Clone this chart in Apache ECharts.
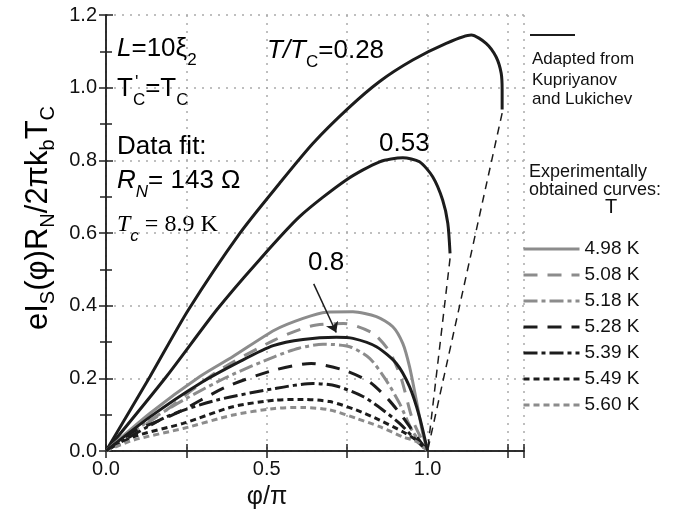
<!DOCTYPE html>
<html>
<head>
<meta charset="utf-8">
<script src="https://cdn.jsdelivr.net/npm/echarts@6/dist/echarts.min.js"></script>
</head>
<body style="margin:0">
<div id="main" style="width:678px;height:516px;"></div>
<script type="text/javascript">
// theory curves (Kupriyanov & Lukichev), T/Tc
var th028 = [[0,0],[0.137,0.205],[0.256,0.388],[0.416,0.599],[0.540,0.737],[0.644,0.847],[0.753,0.943],[0.851,1.017],[0.954,1.076],[1.058,1.122],[1.136,1.145],[1.182,1.122],[1.213,1.085],[1.229,1.04],[1.232,0.994],[1.232,0.94]];
var th053 = [[0,0],[0.188,0.205],[0.344,0.388],[0.468,0.517],[0.602,0.645],[0.747,0.746],[0.851,0.796],[0.923,0.807],[0.975,0.796],[1.016,0.755],[1.047,0.691],[1.063,0.627],[1.070,0.544]];
var th080 = [[0,0],[0.137,0.094],[0.292,0.186],[0.42,0.248],[0.52,0.29],[0.613,0.307],[0.716,0.313],[0.768,0.31],[0.841,0.287],[0.903,0.241],[0.944,0.177],[0.975,0.094],[1.0,0]];
var back028 = [[1.232,0.93],[1.0,0]];
var back053 = [[1.07,0.53],[1.0,0]];

// experimental curves
var expNames = ['4.98 K','5.08 K','5.18 K','5.28 K','5.39 K','5.49 K','5.60 K'];
var exp498 = [[0,0],[0.137,0.104],[0.292,0.205],[0.395,0.26],[0.525,0.333],[0.613,0.365],[0.685,0.382],[0.768,0.383],[0.841,0.370],[0.892,0.342],[0.923,0.296],[0.944,0.232],[0.965,0.140],[0.985,0.049],[1.0,0]];
var exp508 = [[0,0],[0.188,0.113],[0.344,0.218],[0.525,0.306],[0.638,0.344],[0.739,0.351],[0.830,0.324],[0.882,0.273],[0.918,0.200],[0.954,0.085],[1.0,0]];
var exp518 = [[0,0],[0.12,0.075],[0.24,0.140],[0.38,0.205],[0.525,0.260],[0.6,0.283],[0.675,0.294],[0.758,0.287],[0.820,0.255],[0.871,0.195],[0.913,0.131],[0.954,0.053],[1.0,0]];
var exp528 = [[0,0],[0.085,0.053],[0.219,0.104],[0.375,0.177],[0.525,0.223],[0.638,0.241],[0.742,0.222],[0.82,0.19],[0.88,0.14],[0.93,0.085],[0.97,0.035],[1.0,0]];
var exp539 = [[0,0],[0.188,0.094],[0.344,0.140],[0.525,0.172],[0.644,0.186],[0.716,0.179],[0.799,0.150],[0.861,0.113],[0.913,0.076],[0.954,0.039],[1.0,0]];
var exp549 = [[0,0],[0.085,0.039],[0.240,0.076],[0.395,0.122],[0.525,0.140],[0.613,0.142],[0.696,0.136],[0.778,0.113],[0.851,0.085],[0.923,0.053],[0.965,0.030],[1.0,0]];
var exp560 = [[0,0],[0.085,0.030],[0.240,0.062],[0.395,0.099],[0.525,0.117],[0.613,0.120],[0.696,0.113],[0.778,0.090],[0.851,0.067],[0.923,0.039],[0.965,0.026],[1.0,0]];

var arrow08 = [[0.646,0.46],[0.716,0.326]];

var F = "'Liberation Sans', Arial, sans-serif";
var GRAY = '#8c8c8c', BLACK = '#1c1c1c';

var myChart = echarts.init(document.getElementById('main'));

function lineSeries(name, data, color, width, type) {
	return {
		name: name, type: 'line', data: data, symbol: 'none', showSymbol: false, smooth: 0.25,
		lineStyle: { color: color, width: width, type: type },
		itemStyle: { color: color }, silent: true, animation: false
	};
}

var rich26 = {
	n: { fontSize: 26, lineHeight: 44, fontFamily: F, color: '#111' },
	i: { fontSize: 26, lineHeight: 44, fontFamily: F, fontStyle: 'italic', color: '#111' },
	s: { fontSize: 17, lineHeight: 17, fontFamily: F, color: '#111', verticalAlign: 'top', padding: [25, 0, 0, 0] },
	si: { fontSize: 17, lineHeight: 17, fontFamily: F, fontStyle: 'italic', color: '#111', verticalAlign: 'top', padding: [25, 0, 0, 0] },
	tn: { fontSize: 24, lineHeight: 44, fontFamily: "'Liberation Serif', serif", color: '#111' },
	ti: { fontSize: 24, lineHeight: 44, fontFamily: "'Liberation Serif', serif", fontStyle: 'italic', color: '#111' }
};
var richY = {
	n: { fontSize: 31, lineHeight: 46, fontFamily: F, color: '#111' },
	s: { fontSize: 20, lineHeight: 20, fontFamily: F, color: '#111', verticalAlign: 'top', padding: [23, 0, 0, 0] }
};

function txt(x, y, text, rich, extra) {
	var o = { type: 'text', x: x, y: y, silent: true,
		style: { text: text, rich: rich, align: 'left', verticalAlign: 'top' } };
	if (extra) for (var k in extra) o.style[k] = extra[k];
	return o;
}
function plain(x, y, text, size, align) {
	return { type: 'text', x: x, y: y, silent: true,
		style: { text: text, fontSize: size, fontFamily: F, fill: '#111', align: align || 'left', verticalAlign: 'middle' } };
}

var series = [
	lineSeries('th028', th028, BLACK, 3, 'solid'),
	lineSeries('th053', th053, BLACK, 3, 'solid'),
	lineSeries('back028', back028, BLACK, 1.5, [8, 6]),
	lineSeries('back053', back053, BLACK, 1.5, [8, 6]),
	lineSeries(expNames[0], exp498, GRAY, 3, 'solid'),
	lineSeries(expNames[1], exp508, GRAY, 3, [14, 10]),
	lineSeries(expNames[2], exp518, GRAY, 3, [14, 4, 4, 4]),
	lineSeries(expNames[3], exp528, BLACK, 3, [14, 10]),
	lineSeries(expNames[4], exp539, BLACK, 3, [14, 4, 4, 4]),
	lineSeries(expNames[5], exp549, BLACK, 3, [6, 4]),
	lineSeries(expNames[6], exp560, GRAY, 3, [6, 4]),
	lineSeries('th080', th080, BLACK, 3, 'solid')
];
series[11].markLine = {
	silent: true, animation: false, symbol: ['none', 'arrow'], symbolSize: 10,
	label: { show: false },
	lineStyle: { color: BLACK, width: 1.5, type: 'solid' },
	data: [[{ coord: arrow08[0] }, { coord: arrow08[1] }]]
};

var axisLine = { show: true, lineStyle: { color: '#222', width: 1.5 } };
var tick = { show: true, inside: true, length: 7, lineStyle: { color: '#222', width: 1.5 } };
var dotted = { show: true, lineStyle: { color: '#aaa', width: 1.5, type: [2, 6] } };

option = {
	backgroundColor: '#fff',
	animation: false,
	grid: { left: 106, right: 154, top: 15, bottom: 65, containLabel: false },
	legend: {
		data: expNames, orient: 'vertical', left: 522, top: 238,
		itemWidth: 56, itemHeight: 14, itemGap: 4, padding: 0, itemTextGap: 5,
		selectedMode: false,
		itemStyle: { opacity: 0 },
		lineStyle: { width: 3 },
		textStyle: { fontSize: 19, fontFamily: F, color: '#111', lineHeight: 22 }
	},
	xAxis: [{
		type: 'value', min: 0, max: 1.3, interval: 0.25,
		axisLine: axisLine, axisTick: tick, splitLine: dotted,
		axisLabel: { fontSize: 20, fontFamily: F, color: '#111', margin: 8,
			formatter: function (v) {
				var d = v * 2;
				return (Math.abs(d - Math.round(d)) < 1e-6 && v < 1.1) ? v.toFixed(1) : '';
			} }
	}, {
		type: 'value', position: 'top', min: 0, max: 1.3, interval: 0.25,
		axisLine: axisLine, axisTick: tick, splitLine: { show: false }, axisLabel: { show: false }
	}],
	yAxis: [{
		type: 'value', min: 0, max: 1.2, interval: 0.2,
		axisLine: axisLine, axisTick: tick, splitLine: dotted,
		minorTick: { show: true, splitNumber: 2, length: 6, lineStyle: { color: '#222', width: 1.5 } },
		axisLabel: { fontSize: 20, fontFamily: F, color: '#111', margin: 9,
			formatter: function (v) { return v.toFixed(1); } }
	}, {
		type: 'value', position: 'right', min: 0, max: 1.2, interval: 0.2,
		axisLine: axisLine, axisTick: tick, splitLine: { show: false }, axisLabel: { show: false },
		minorTick: { show: true, splitNumber: 2, length: 6, lineStyle: { color: '#222', width: 1.5 } }
	}],
	series: series,
	graphic: [
		// axis titles
		{ type: 'text', x: 38, y: 218, rotation: Math.PI / 2, silent: true,
			style: { text: '{n|eI}{s|S}{n|(φ)R}{s|N}{n|/2πk}{s|b}{n|T}{s|C}', rich: richY, align: 'center', verticalAlign: 'middle' } },
		plain(267, 497, 'φ/π', 25, 'center'),
		// annotations in the plot
		txt(117, 27, '{i|L}{n|=10ξ}{s|2}', rich26),
		txt(117, 67, '{n|T}{s|C}{n|=T}{s|C}', rich26),
		txt(135, 74, "'", null, { fontSize: 18, fontFamily: F, fill: '#111' }),
		txt(267, 29, '{i|T/T}{s|C}{n|=0.28}', rich26),
		txt(117, 125, '{n|Data fit:}', rich26),
		txt(117, 159, '{i|R}{si|N}{n|= 143 Ω}', rich26),
		txt(117, 203, '{ti|T}{si|c}{tn| = 8.9 K}', rich26),
		txt(379, 122, '{n|0.53}', rich26),
		txt(308, 241, '{n|0.8}', rich26),
		// right-hand legend text
		{ type: 'line', silent: true, shape: { x1: 530, y1: 35, x2: 575, y2: 35 }, style: { stroke: BLACK, lineWidth: 2 } },
		plain(532, 59, 'Adapted from', 17),
		plain(532, 80, 'Kupriyanov', 17),
		plain(532, 99, 'and Lukichev', 17),
		plain(529, 172, 'Experimentally', 18),
		plain(529, 190, 'obtained curves:', 18),
		plain(611, 207, 'T', 20, 'center')
	]
};
myChart.setOption(option);
</script>
</body>
</html>
